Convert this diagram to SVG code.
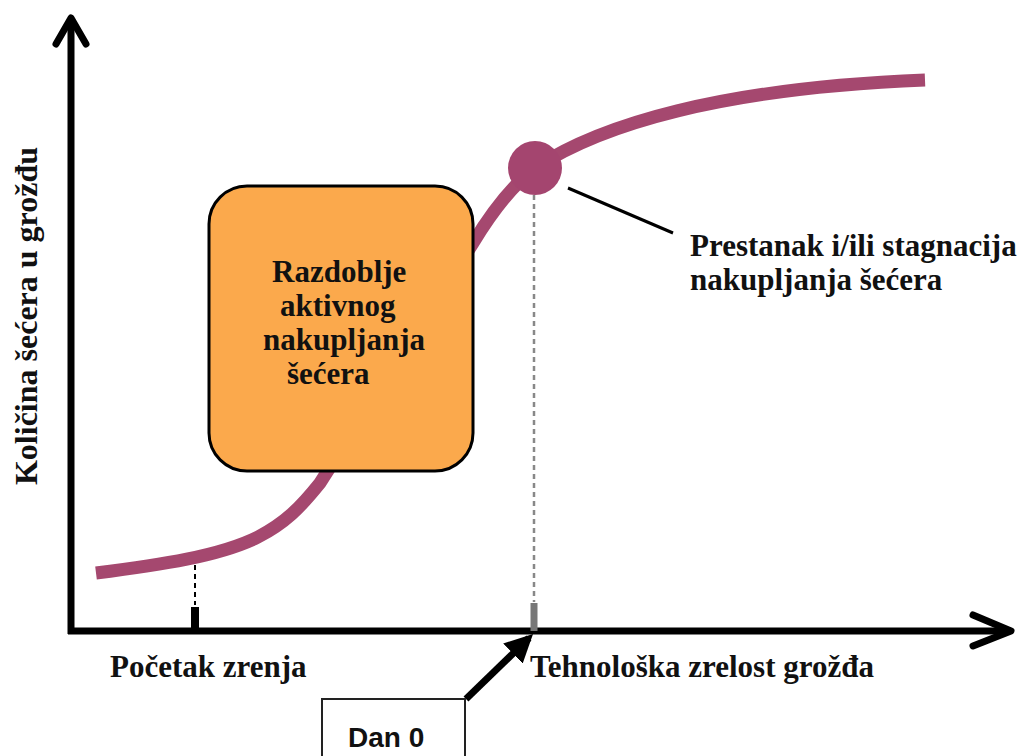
<svg xmlns="http://www.w3.org/2000/svg" width="1026" height="756" viewBox="0 0 1026 756">
<style>
.lbl{font-family:"Liberation Serif","Times New Roman",serif;font-weight:bold;font-size:31px;fill:#111}
.box{font-family:"Liberation Serif","Times New Roman",serif;font-weight:bold;font-size:31px;fill:#111}
.axis{stroke:#000;stroke-width:7;fill:none}
.head{stroke:#000;stroke-width:7;fill:none;stroke-linecap:round;stroke-linejoin:round}
</style>
<defs>
<marker id="ah" viewBox="0 0 10 10" refX="8" refY="5" markerWidth="4" markerHeight="4" orient="auto" markerUnits="strokeWidth">
<path d="M0,0 L10,5 L0,10 z" fill="#000"/>
</marker>
</defs>
<rect width="1026" height="756" fill="#fff"/>
<g id="connectors">
<path class="axis" d="M71,20 L71,634"/>
<path class="axis" d="M68,631 L1010,631"/>
<path class="head" d="M56,44 L71,18 L86,44"/>
<path class="head" d="M973,615 L1011,631 L973,646"/>
<line x1="195" y1="565" x2="195" y2="605" stroke="#000" stroke-width="2" stroke-dasharray="5,4"/>
<line x1="195" y1="607" x2="195" y2="631" stroke="#000" stroke-width="8"/>
<line x1="534" y1="195" x2="534" y2="602" stroke="#888" stroke-width="2.5" stroke-dasharray="5,4"/>
<line x1="534" y1="603" x2="534" y2="631" stroke="#777" stroke-width="7"/>
<path d="M96,573 C160,565 220,556 258,537 C285,523 300,508 320,483 L473,243 C490,215 510,187 535,168 C600,125 720,88 925,80" fill="none" stroke="#A5486F" stroke-width="13"/>
<line x1="568" y1="188" x2="673" y2="233" stroke="#000" stroke-width="3"/>
<line x1="466" y1="699" x2="529" y2="638" stroke="#000" stroke-width="7" marker-end="url(#ah)"/>
</g>
<g id="node-peak">
<circle cx="535" cy="168" r="27" fill="#A4456F"/>
</g>
<g id="node-period">
<rect x="209" y="186" width="264" height="285" rx="38" ry="38" fill="#FBA94C" stroke="#000" stroke-width="3"/>
<text class="box" x="272" y="282">Razdoblje</text>
<text class="box" x="280" y="316">aktivnog</text>
<text class="box" x="263" y="350">nakupljanja</text>
<text class="box" x="287" y="384">šećera</text>
</g>
<g id="node-stop">
<text class="lbl" x="690" y="256">Prestanak i/ili stagnacija</text>
<text class="lbl" x="690" y="290">nakupljanja šećera</text>
</g>
<g id="node-start">
<text class="lbl" x="110" y="677">Početak zrenja</text>
</g>
<g id="node-tech">
<text class="lbl" x="530" y="677">Tehnološka zrelost grožđa</text>
</g>
<g id="node-yaxis">
<text class="lbl" font-size="32" transform="translate(37,316) rotate(-90)" text-anchor="middle" style="font-size:32px">Količina šećera u grožđu</text>
</g>
<g id="node-dan0">
<rect x="322" y="699" width="143" height="70" fill="#fff" stroke="#222" stroke-width="2"/>
<text x="348" y="747" font-family="Liberation Sans, Arial, sans-serif" font-weight="bold" font-size="28" fill="#111">Dan 0</text>
</g>
</svg>
